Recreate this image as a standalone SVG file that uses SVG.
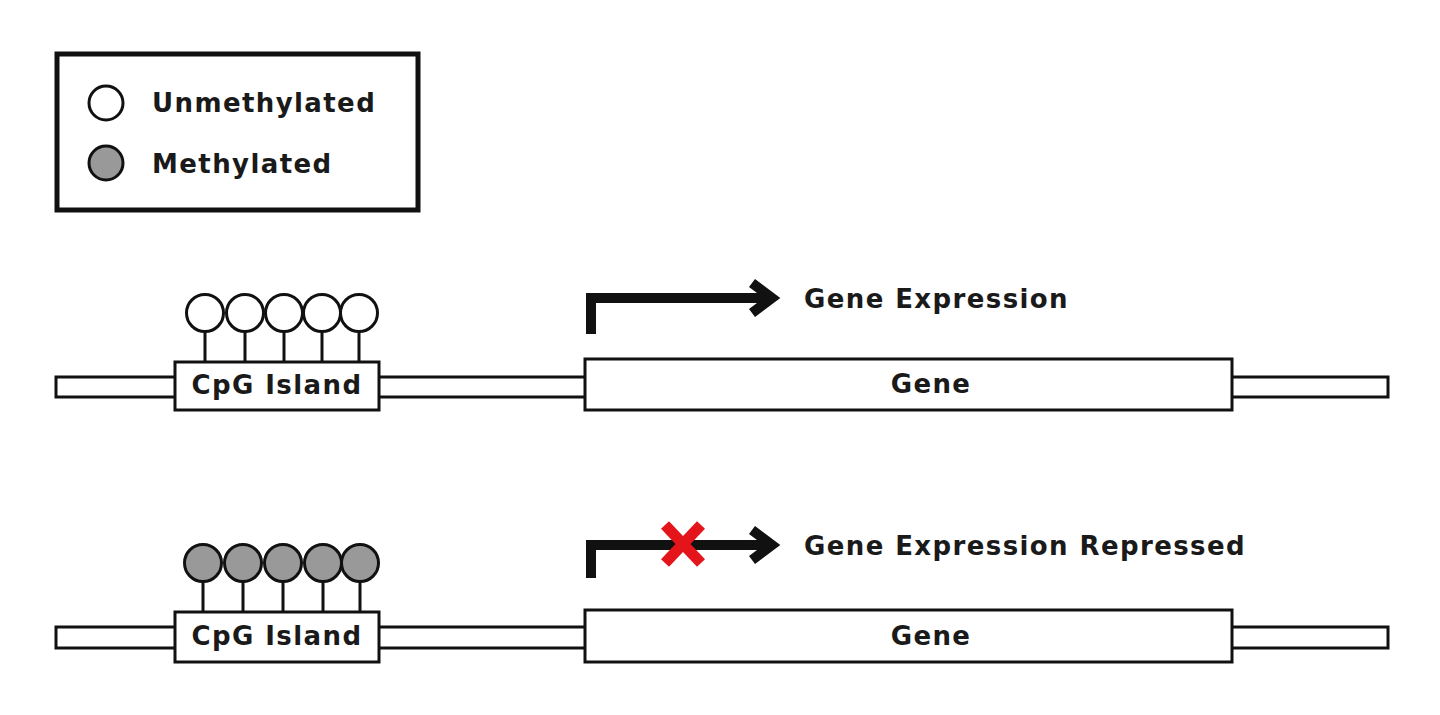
<svg xmlns="http://www.w3.org/2000/svg" width="1440" height="715" viewBox="0 0 1440 715">
<style>
.t{font-family:"DejaVu Sans","Liberation Sans",sans-serif;font-weight:bold;font-size:26px;fill:#1a1a1a;letter-spacing:1.4px}
.box{fill:#fff;stroke:#111;stroke-width:3}
.um{fill:#fff;stroke:#111;stroke-width:3}
.me{fill:#999;stroke:#111;stroke-width:3}
.stem{stroke:#111;stroke-width:3}
.arr{fill:none;stroke:#111;stroke-width:10}
</style>
<rect width="1440" height="715" fill="#fff"/>
<g id="legend">
<rect x="57" y="54" width="361" height="156" fill="#fff" stroke="#111" stroke-width="5"/>
<circle class="um" cx="106" cy="103" r="17"/>
<circle class="me" cx="106" cy="163" r="17"/>
<text class="t" x="152" y="112">Unmethylated</text>
<text class="t" x="152" y="173">Methylated</text>
</g>
<g id="row1">
<rect class="box" x="56" y="377" width="1332" height="20"/>
<g id="cpg1">
<line class="stem" x1="205" y1="330" x2="205" y2="362"/>
<line class="stem" x1="245" y1="330" x2="245" y2="362"/>
<line class="stem" x1="284" y1="330" x2="284" y2="362"/>
<line class="stem" x1="322" y1="330" x2="322" y2="362"/>
<line class="stem" x1="359" y1="330" x2="359" y2="362"/>
<circle class="um" cx="205" cy="313" r="18.5"/>
<circle class="um" cx="245" cy="313" r="18.5"/>
<circle class="um" cx="284" cy="313" r="18.5"/>
<circle class="um" cx="322" cy="313" r="18.5"/>
<circle class="um" cx="359" cy="313" r="18.5"/>
<rect class="box" x="175" y="362" width="204" height="48"/>
<text class="t" x="277" y="394" text-anchor="middle">CpG Island</text>
</g>
<g id="gene1">
<rect class="box" x="585" y="359" width="647" height="51"/>
<text class="t" x="931" y="393" text-anchor="middle">Gene</text>
</g>
<g id="expr1">
<path class="arr" d="M591 334 V298 H772"/>
<path class="arr" d="M752 283 L772 298 L752 313"/>
<text class="t" x="804" y="308">Gene Expression</text>
</g>
</g>
<g id="row2">
<rect class="box" x="56" y="627" width="1332" height="21"/>
<g id="cpg2">
<line class="stem" x1="203" y1="580" x2="203" y2="612"/>
<line class="stem" x1="243" y1="580" x2="243" y2="612"/>
<line class="stem" x1="283" y1="580" x2="283" y2="612"/>
<line class="stem" x1="323" y1="580" x2="323" y2="612"/>
<line class="stem" x1="360" y1="580" x2="360" y2="612"/>
<circle class="me" cx="203" cy="563" r="18.5"/>
<circle class="me" cx="243" cy="563" r="18.5"/>
<circle class="me" cx="283" cy="563" r="18.5"/>
<circle class="me" cx="323" cy="563" r="18.5"/>
<circle class="me" cx="360" cy="563" r="18.5"/>
<rect class="box" x="175" y="612" width="204" height="50"/>
<text class="t" x="277" y="645" text-anchor="middle">CpG Island</text>
</g>
<g id="gene2">
<rect class="box" x="585" y="610" width="647" height="52"/>
<text class="t" x="931" y="645" text-anchor="middle">Gene</text>
</g>
<g id="expr2">
<path class="arr" d="M591 578 V545 H772"/>
<path class="arr" d="M752 530 L772 545 L752 560"/>
<path d="M665 525 L701 563 M701 525 L665 563" stroke="#e3151a" stroke-width="11" fill="none"/>
<text class="t" x="804" y="555">Gene Expression Repressed</text>
</g>
</g>
</svg>
